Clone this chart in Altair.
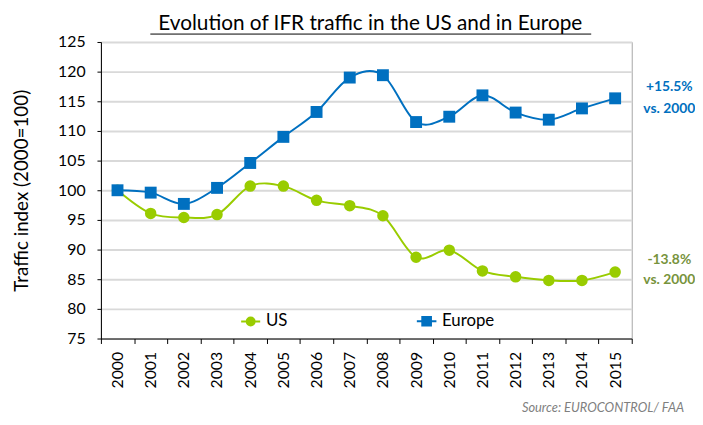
import altair as alt
import pandas as pd

years = [str(y) for y in range(2000, 2016)]
us = [100.0, 96.1, 95.4, 95.9, 100.7, 100.7, 98.3, 97.4, 95.7, 88.7, 89.9, 86.4, 85.4, 84.8, 84.8, 86.2]
europe = [100.0, 99.6, 97.7, 100.4, 104.6, 109.0, 113.2, 119.0, 119.4, 111.5, 112.4, 116.0, 113.1, 111.9, 113.8, 115.5]
series = ["US", "Europe"]
colors = ["#99CC00", "#0070C0"]
y_ticks = list(range(75, 130, 5))

rows = []
for name, vals in zip(series, [us, europe]):
    for yr, v in zip(years, vals):
        rows.append({"year": yr, "value": v, "series": name})
df = pd.DataFrame(rows)

W, H = 537, 300
FONT = "Lato"

x_enc = alt.X("year:N", sort=years,
              scale=alt.Scale(type="band", paddingInner=0, paddingOuter=0),
              axis=alt.Axis(title=None, labelAngle=270, labelAlign="right", labelBaseline="middle",
                            labelFontSize=16, labelFont=FONT, labelColor="black", labelPadding=8,
                            tickBand="extent", tickColor="black", tickSize=5,
                            domainColor="black", domainWidth=1, grid=False))
y_axis = alt.Axis(values=y_ticks, title="Traffic index (2000=100)",
                  titleFontSize=19, titleFont=FONT, titleFontWeight="normal", titleColor="black",
                  titleX=-80, titleY=H / 2, titleAngle=270, titleAlign="center", titleBaseline="middle",
                  labelFontSize=16, labelFont=FONT, labelColor="black", labelPadding=12,
                  tickColor="black", tickSize=4, domainColor="black",
                  gridColor="#d9d9d9", gridWidth=2)
y_enc = alt.Y("value:Q", scale=alt.Scale(domain=[75, 125], nice=False, zero=False), axis=y_axis)
color_enc = alt.Color("series:N", scale=alt.Scale(domain=series, range=colors), legend=None)

base = alt.Chart(df).encode(x=x_enc, y=y_enc, color=color_enc)
lines = base.mark_line(interpolate="cardinal", strokeWidth=2)
points = base.mark_point(filled=True, opacity=1).encode(
    shape=alt.Shape("series:N", scale=alt.Scale(domain=series, range=["circle", "square"]), legend=None),
    size=alt.Size("series:N", scale=alt.Scale(domain=series, range=[135, 145]), legend=None),
)

# legend symbols: a short line through a solid marker (drawn as nested 2px strokes)
def ring(r):
    return f"M{r},0A{r},{r},0,1,1,{-r},0A{r},{r},0,1,1,{r},0Z"

def box(h):
    return f"M{-h},{-h}L{h},{-h}L{h},{h}L{-h},{h}Z"

paths = [
    "M-1.75,0L1.75,0" + ring(0.73) + ring(0.38) + ring(0.1),
    "M-1.8,0L1.8,0" + box(0.8) + box(0.45) + box(0.1),
]
leg = alt.Legend(title=None, orient="none", legendX=143, legendY=274, direction="horizontal",
                 symbolSize=121, symbolStrokeWidth=2, labelFontSize=17, labelFont=FONT,
                 labelColor="black", labelOffset=7, columnPadding=126)
legend_layer = alt.Chart(df).mark_point(filled=False, strokeWidth=2, opacity=1).encode(
    x=alt.X("year:N", sort=years),
    y=alt.Y("value:Q", axis=y_axis),
    color=alt.Color("series:N", scale=alt.Scale(domain=series, range=colors), legend=leg),
    shape=alt.Shape("series:N", scale=alt.Scale(domain=series, range=paths), legend=leg),
).transform_filter("false")

ann_df = pd.DataFrame({
    "text": ["+15.5%", "vs. 2000", "-13.8%", "vs. 2000"],
    "py": [46, 68, 221, 241],
    "col": ["#0070C0", "#0070C0", "#77933C", "#77933C"],
})
ann = alt.Chart(ann_df).mark_text(font=FONT, fontSize=14, fontWeight="bold", align="center",
                                  baseline="middle").encode(
    x=alt.value(W + 38), y=alt.Y("py:Q", scale=None), text="text:N",
    color=alt.Color("col:N", scale=None))

src = alt.Chart(pd.DataFrame({"t": ["Source: EUROCONTROL/ FAA"]})).mark_text(
    font=FONT, fontSize=13, fontStyle="italic", color="#7f7f7f", align="right", baseline="middle"
).encode(x=alt.value(W + 53), y=alt.value(H + 70), text="t:N")

underline = alt.Chart(pd.DataFrame({"a": [0]})).mark_rule(color="black", strokeWidth=1).encode(
    x=alt.value(50), x2=alt.value(496), y=alt.value(-8))

chart = alt.layer(lines, points, legend_layer, ann, src, underline).resolve_scale(
    color="independent", shape="independent", size="independent"
).properties(
    width=W, height=H,
    title=alt.TitleParams("Evolution of IFR traffic in the US and in Europe", fontSize=21, font=FONT,
                          fontWeight="normal", color="black", anchor="middle", offset=0, dx=4),
    autosize=alt.AutoSizeParams(type="none"),
    padding={"left": 94, "top": 32, "right": 64, "bottom": 77},
).configure_view(stroke="#a6a6a6", strokeWidth=1)

chart.save("out.html", embed_options={"renderer": "svg", "actions": False})
